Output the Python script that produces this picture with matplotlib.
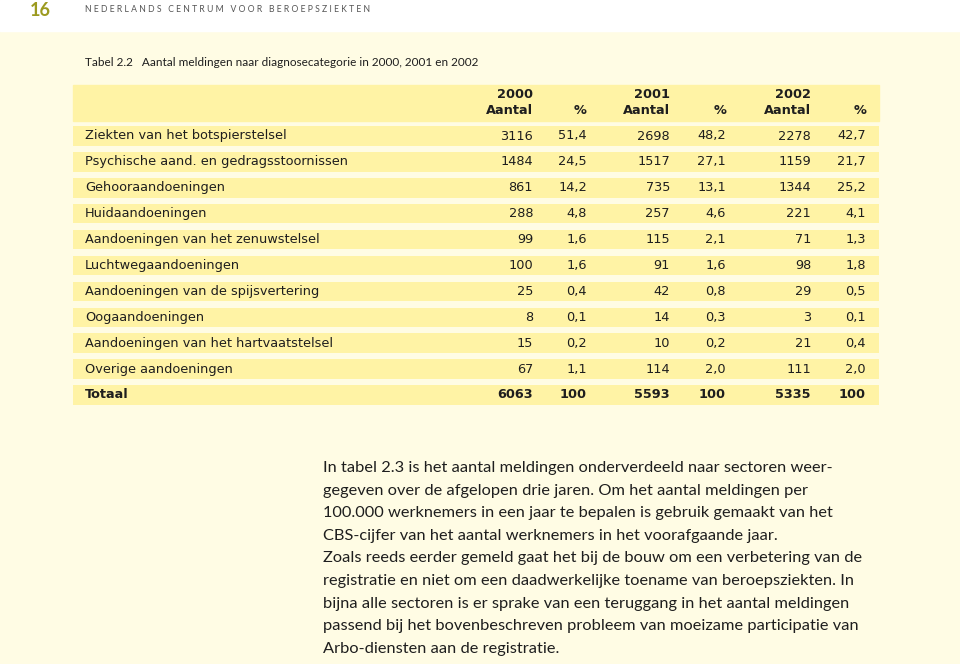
import matplotlib.pyplot as plt
from matplotlib.patches import Rectangle

# tabel 2.2 data
categories = [
    "Ziekten van het botspierstelsel",
    "Psychische aand. en gedragsstoornissen",
    "Gehooraandoeningen",
    "Huidaandoeningen",
    "Aandoeningen van het zenuwstelsel",
    "Luchtwegaandoeningen",
    "Aandoeningen van de spijsvertering",
    "Oogaandoeningen",
    "Aandoeningen van het hartvaatstelsel",
    "Overige aandoeningen",
    "Totaal",
]
years = ["2000", "2001", "2002"]
aantal_2000 = [3116, 1484, 861, 288, 99, 100, 25, 8, 15, 67, 6063]
pct_2000 = ["51,4", "24,5", "14,2", "4,8", "1,6", "1,6", "0,4", "0,1", "0,2", "1,1", "100"]
aantal_2001 = [2698, 1517, 735, 257, 115, 91, 42, 14, 10, 114, 5593]
pct_2001 = ["48,2", "27,1", "13,1", "4,6", "2,1", "1,6", "0,8", "0,3", "0,2", "2,0", "100"]
aantal_2002 = [2278, 1159, 1344, 221, 71, 98, 29, 3, 21, 111, 5335]
pct_2002 = ["42,7", "21,7", "25,2", "4,1", "1,3", "1,8", "0,5", "0,1", "0,4", "2,0", "100"]

paragraph = [
    "In tabel 2.3 is het aantal meldingen onderverdeeld naar sectoren weer-",
    "gegeven over de afgelopen drie jaren. Om het aantal meldingen per",
    "100.000 werknemers in een jaar te bepalen is gebruik gemaakt van het",
    "CBS-cijfer van het aantal werknemers in het voorafgaande jaar.",
    "Zoals reeds eerder gemeld gaat het bij de bouw om een verbetering van de",
    "registratie en niet om een daadwerkelijke toename van beroepsziekten. In",
    "bijna alle sectoren is er sprake van een teruggang in het aantal meldingen",
    "passend bij het bovenbeschreven probleem van moeizame participatie van",
    "Arbo-diensten aan de registratie.",
]

BG = "#fffce4"
BAND = "#fff3a5"
TXT = "#1e1e1e"
FONT = "Lato"
TFONT = "DejaVu Sans"
FS = 9.3

fig = plt.figure(figsize=(9.6, 6.64), dpi=100)
ax = fig.add_axes([0, 0, 1, 1])
ax.set_xlim(0, 960)
ax.set_ylim(664, 0)
ax.axis("off")
fig.patch.set_facecolor(BG)

# witte kopstrook
ax.add_patch(Rectangle((0, 0), 960, 31, color="white", zorder=0))
ax.text(30, 16.5, "16", fontsize=13, fontweight="bold", color="#9c9a20",
        family=FONT, va="baseline", ha="left")
ax.text(85, 9, "N E D E R L A N D S   C E N T R U M   V O O R   B E R O E P S Z I E K T E N",
        fontsize=6.2, color="#555555", family=FONT, va="center", ha="left")

ax.text(85, 63, "Tabel 2.2   Aantal meldingen naar diagnosecategorie in 2000, 2001 en 2002",
        fontsize=8.5, color=TXT, family=FONT, va="center", ha="left")

# header
ax.add_patch(Rectangle((73, 85), 806, 36, color=BAND, zorder=1))
aantal_x = [533, 670, 811]
pct_x = [587, 726, 866]
for yr, xa, xp in zip(years, aantal_x, pct_x):
    ax.text(xa, 95, yr, fontsize=FS, fontweight="bold", color=TXT, family=TFONT,
            ha="right", va="center", zorder=2)
    ax.text(xa, 111, "Aantal", fontsize=FS, fontweight="bold", color=TXT, family=TFONT,
            ha="right", va="center", zorder=2)
    ax.text(xp, 111, "%", fontsize=FS, fontweight="bold", color=TXT, family=TFONT,
            ha="right", va="center", zorder=2)

# rijen
row_y0 = 136
pitch = 25.9
rows_y = [row_y0 + i * pitch for i in range(len(categories))]
ax.barh(rows_y, 806, left=73, height=19.5, color=BAND, zorder=1)

cols = [aantal_2000, pct_2000, aantal_2001, pct_2001, aantal_2002, pct_2002]
col_x = [aantal_x[0], pct_x[0], aantal_x[1], pct_x[1], aantal_x[2], pct_x[2]]
for i, (cat, y) in enumerate(zip(categories, rows_y)):
    w = "bold" if cat == "Totaal" else "normal"
    ax.text(85, y, cat, fontsize=FS, fontweight=w, color=TXT, family=TFONT,
            ha="left", va="center", zorder=2)
    for vals, x in zip(cols, col_x):
        ax.text(x, y, str(vals[i]), fontsize=FS, fontweight=w, color=TXT,
                family=TFONT, ha="right", va="center", zorder=2)

# lopende tekst
for j, line in enumerate(paragraph):
    ax.text(323, 468 + j * 22.6, line, fontsize=11.8, color=TXT, family=FONT,
            ha="left", va="center")

fig.savefig("out.png", dpi=100, facecolor=BG)
